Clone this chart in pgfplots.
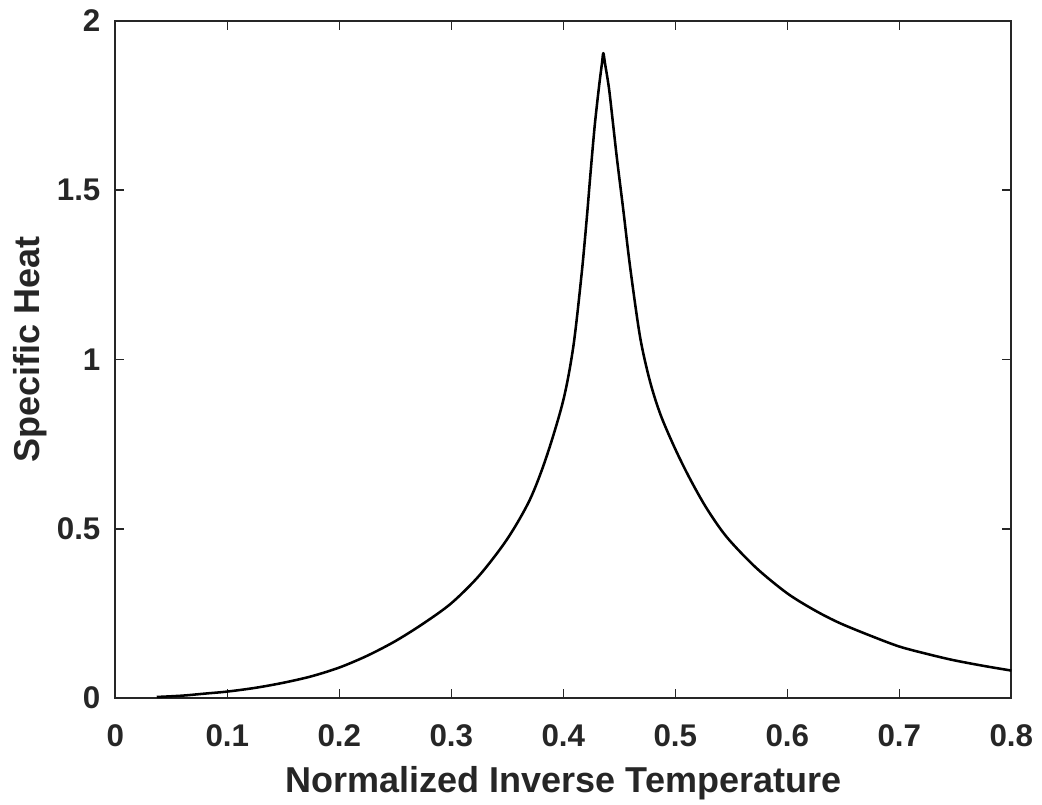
\documentclass[border=0pt]{standalone}
\usepackage{fontspec}
\setmainfont{Liberation Sans}
\usepackage{pgfplots}
\pgfplotsset{compat=1.18}
\definecolor{axgray}{RGB}{38,38,38}

\begin{document}
\begin{tikzpicture}
\begin{axis}[
  at={(0,0)}, anchor=south west,
  scale only axis,
  width=672pt, height=507.75pt,
  xmin=0, xmax=0.8, ymin=0, ymax=2,
  xtick={0,0.1,...,0.8},
  ytick={0,0.5,1,1.5,2},
  xticklabels={0,0.1,0.2,0.3,0.4,0.5,0.6,0.7,0.8},
  yticklabels={0,0.5,1,1.5,2},
  tick align=inside,
  major tick length=6.75pt,
  axis line style={draw=axgray, line width=1.5pt},
  every tick/.style={draw=axgray, line width=1.2pt},
  /pgf/number format/assume math mode=true,
  ticklabel style={font=\fontsize{23.5}{27}\selectfont\bfseries, text=axgray, inner sep=0pt},
  xticklabel style={anchor=base, yshift=-36.75pt},
  yticklabel style={anchor=east, xshift=-11pt},
  label style={font=\fontsize{27}{31}\selectfont\bfseries, text=axgray, inner sep=0pt},
  xlabel={Normalized Inverse Temperature},
  ylabel={Specific Heat},
  xlabel style={at={(axis description cs:0.5,-0.1403)}, anchor=base},
  ylabel style={at={(axis description cs:-0.0841,0.515)}, anchor=base},
  clip=false,
]
% specific heat curve
\addplot[black, line width=1.9pt, line join=round, smooth, tension=0.5] coordinates {
  (0.037,0.003) (0.06,0.007) (0.08,0.013) (0.1,0.019) (0.125,0.030)
  (0.15,0.045) (0.175,0.064) (0.2,0.090) (0.225,0.125) (0.25,0.168)
  (0.275,0.220) (0.3,0.280) (0.325,0.362) (0.35,0.470) (0.37,0.585)
  (0.385,0.713) (0.4,0.880) (0.409,1.040) (0.4164,1.255) (0.421,1.420)
  (0.424,1.540) (0.428,1.690) (0.432,1.810) (0.4345,1.875) (0.4357,1.905)
  (0.4372,1.875) (0.4408,1.800) (0.4446,1.690) (0.448,1.590)
  (0.4536,1.44) (0.4596,1.274) (0.4685,1.067) (0.4774,0.935)
  (0.487,0.835) (0.500,0.735) (0.513,0.648) (0.528,0.560) (0.546,0.475)
  (0.572,0.385) (0.6,0.309) (0.625,0.258) (0.647,0.221) (0.675,0.183)
  (0.70,0.152) (0.725,0.130) (0.748,0.112) (0.775,0.095) (0.8,0.081)
};
\end{axis}
\pgfresetboundingbox
\useasboundingbox (-86.5pt,-80.25pt) rectangle (695pt,523.5pt);
\end{tikzpicture}
\end{document}
